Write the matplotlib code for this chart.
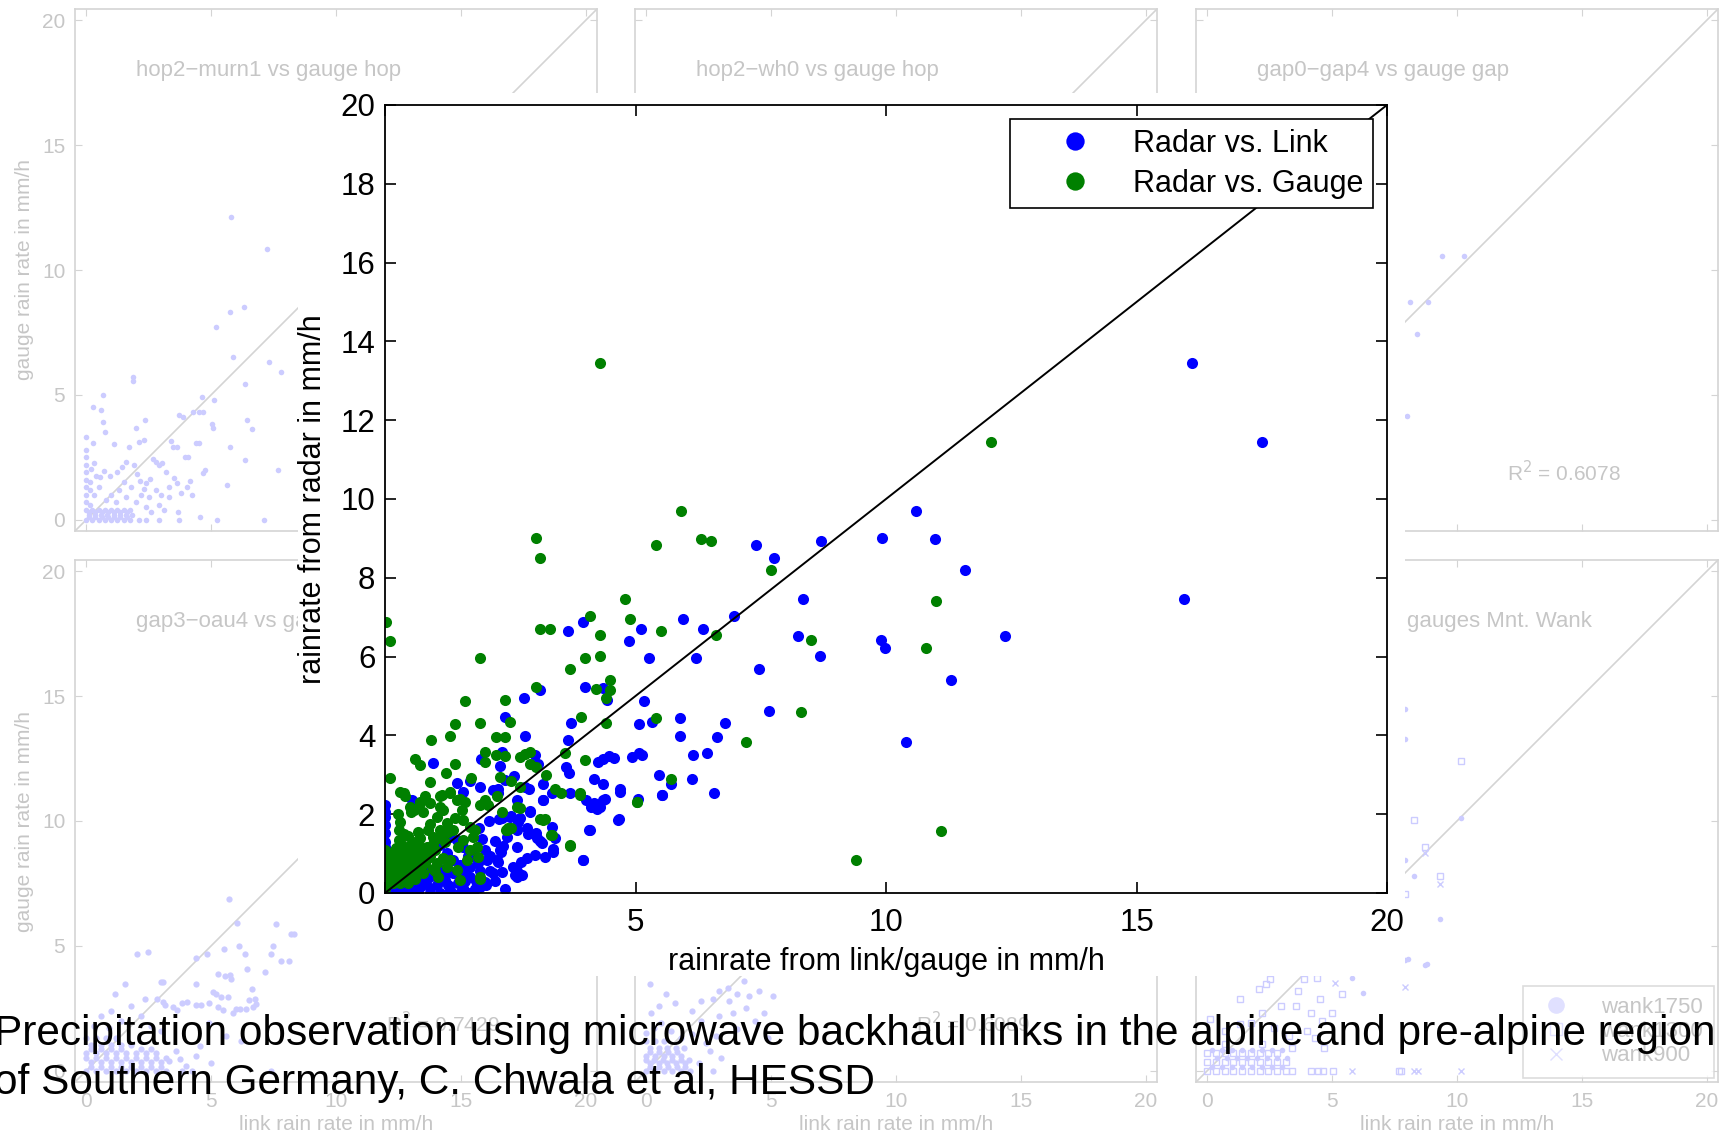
import matplotlib.pyplot as plt
from matplotlib.patches import Rectangle
from matplotlib.lines import Line2D

plt.rcParams['font.family'] = ['Liberation Sans', 'DejaVu Sans']

# ---------------- main plot data (rainrate in mm/h) ----------------
# radar vs. link  (x = link, y = radar)
link_x = [16.1, 17.5, 15.95, 10.60, 9.93, 10.97, 7.40, 8.71, 7.77, 11.57, 8.34, 5.94, 6.97, 3.96, 5.10,
          6.34, 3.65, 8.24, 12.38, 4.88, 9.90, 9.99, 5.27, 6.21, 8.68, 7.46, 11.29, 4.00, 3.10, 4.35,
          4.43, 2.77, 5.17, 2.40, 3.71, 5.06, 5.33, 5.88, 6.78, 7.66, 2.79, 3.65, 5.88, 6.62, 10.40,
          6.15, 6.43, 4.94, 5.06, 5.12, 4.26, 4.36, 4.48, 4.58, 3.00, 2.34, 1.91, 0.95, 2.29, 3.06,
          3.61, 3.67, 4.17, 5.46, 6.12, 5.70, 4.35, 4.69, 6.57, 5.52, 5.05, 4.39, 4.12, 4.23, 4.17,
          4.68, 4.07, 3.95, 2.40, 2.87, 3.15, 3.15, 3.34, 1.56, 2.25, 0.53, 2.58, 2.64, 2.90, 2.28,
          2.51, 2.69, 2.83, 3.01, 3.10, 3.36, 2.99, 2.71, 2.60, 2.63, 2.24, 2.10, 2.02, 1.81, 2.19,
          2.31, 1.94, 1.88, 2.08,
          0.0, 0.0, 0.0, 0.0, 0.0, 0.0, 0.0, 0.0, 0.0, 0.0, 0.0, 0.0,
          2.16, 2.26, 2.33, 2.43, 2.50, 2.66, 2.63, 2.86, 3.03, 3.13, 3.19, 3.36, 3.39, 3.33, 3.16,
          2.89, 2.63, 2.83, 2.56, 2.63, 2.73, 2.30, 2.26, 2.33, 2.16, 2.00, 2.03, 1.70, 1.56, 1.43,
          1.30, 1.10, 1.23, 1.36, 1.50, 1.36, 1.20, 1.03, 0.90, 0.70, 0.57, 0.37, 0.10, 1.30, 1.56,
          0.86, 1.13, 0.70, 3.96, 4.09, 3.69, 4.02, 4.36, 4.69, 4.66, 4.29, 5.52, 1.70, 1.90, 2.79,
          1.43, 1.00, 1.60, 1.80, 0.50, 1.10, 1.50, 0.25, 1.90, 1.65, 0.80, 0.45,
          0.30, 0.55, 0.80, 1.05, 1.25, 1.45, 1.70, 1.90, 2.20, 2.40, 0.90, 1.70, 1.20, 1.55, 1.85,
          2.10, 2.35, 2.00, 1.75, 1.45, 0.65, 0.20]
link_y = [13.45, 11.45, 7.45, 9.70, 9.02, 8.98, 8.83, 8.93, 8.51, 8.20, 7.47, 6.96, 7.02, 6.88, 6.71,
          6.71, 6.66, 6.53, 6.53, 6.40, 6.43, 6.22, 5.97, 5.97, 6.01, 5.69, 5.40, 5.22, 5.14, 5.20,
          4.89, 4.96, 4.88, 4.47, 4.32, 4.30, 4.34, 4.45, 4.32, 4.61, 3.99, 3.88, 3.98, 3.95, 3.82,
          3.50, 3.56, 3.46, 3.55, 3.50, 3.32, 3.40, 3.48, 3.43, 3.50, 3.58, 3.39, 3.29, 3.23, 3.27,
          3.21, 3.04, 2.90, 3.00, 2.90, 2.76, 2.76, 2.63, 2.53, 2.50, 2.38, 2.38, 2.19, 2.14, 2.28,
          1.87, 1.61, 0.83, 2.86, 2.63, 2.77, 2.37, 2.55, 2.56, 2.63, 2.36, 2.98, 2.37, 2.08, 1.88,
          1.95, 1.91, 1.66, 1.52, 1.31, 1.11, 0.97, 0.79, 0.45, 0.55, 0.84, 0.56, 0.21, 0.31, 1.32,
          1.05, 1.37, 1.66, 1.84,
          2.23, 2.06, 1.93, 1.73, 1.52, 1.29, 1.17, 0.96, 0.76, 0.53, 0.33, 0.15,
          2.61, 2.53, 1.90, 1.43, 1.94, 1.81, 1.60, 1.51, 1.39, 1.26, 0.92, 1.05, 1.39, 1.68, 2.36,
          2.06, 1.18, 0.88, 0.67, 0.41, 0.45, 1.09, 0.79, 0.54, 0.50, 0.29, 0.84, 0.67, 1.18, 1.35,
          1.43, 1.22, 1.01, 0.84, 0.71, 0.50, 0.33, 0.20, 0.12, 0.16, 0.08, 0.03, 0.08, 0.08, 0.12,
          0.37, 0.58, 0.33, 0.84, 1.60, 2.53, 2.36, 2.36, 2.57, 1.85, 2.19, 2.49, 2.83, 2.70, 2.70,
          2.78, 0.50, 0.30, 0.10, 0.00, 0.00, 0.00, 0.20, 0.55, 0.95, 0.60, 0.45,
          0.10, 0.20, 0.25, 0.35, 0.20, 0.25, 0.40, 0.15, 0.30, 0.10, 0.00, 0.00, 0.50, 0.55, 0.75,
          0.95, 1.20, 1.10, 0.95, 0.45, 0.00, 0.00]

# radar vs. gauge  (x = gauge, y = radar)
gauge_x = [4.30, 12.09, 5.91, 3.01, 6.30, 6.50, 5.40, 3.10, 7.70, 4.80, 11.00, 4.09, 4.90, 0.01, 3.10,
           3.30, 5.50, 4.30, 6.60, 8.50, 0.10, 10.80, 1.90, 4.00, 4.30, 3.70, 4.50, 3.01, 4.21, 4.50,
           4.41, 1.59, 2.40, 2.50, 1.40, 1.90, 3.91, 5.40, 4.41, 8.30, 1.30, 2.21, 2.40, 0.91, 7.20,
           2.00, 3.60, 2.89, 2.70, 2.80, 2.21, 2.00, 2.40, 0.60, 0.70, 4.00, 1.40, 2.90, 3.01, 1.21,
           0.10, 3.21, 2.30, 1.71, 2.51, 0.90, 5.70, 3.40, 3.51, 3.90, 0.30, 1.30, 0.39, 1.10, 1.49,
           0.69, 1.10, 5.03, 2.70, 1.90, 0.52, 3.10, 3.20, 3.31, 3.70, 11.09, 9.40, 2.41, 2.51, 1.90,
           0.37, 0.50, 0.57, 0.70, 0.76, 0.90, 1.03, 1.13, 1.30, 1.43, 1.53, 1.56, 1.70, 1.76, 1.83,
           1.86, 1.90, 1.70, 1.63, 1.46, 1.36, 1.23, 1.10, 0.96, 0.83, 0.76, 0.63, 0.50, 0.43, 0.37,
           0.28, 0.30, 0.25, 0.28, 1.03, 1.23, 1.43, 1.50, 1.06, 0.96, 2.63, 2.33, 2.43, 2.46, 3.33,
           3.69, 3.16, 2.23, 2.69, 3.89, 5.02, 2.06, 2.00,
           0.0, 0.0, 0.0, 0.0, 0.0, 0.0, 0.15, 0.15, 0.15, 0.15, 0.15, 0.3, 0.3, 0.3, 0.3, 0.3,
           0.45, 0.45, 0.45, 0.45, 0.45, 0.6, 0.6, 0.6, 0.6, 0.75, 0.8, 0.9, 0.55, 0.7, 0.85, 1.2,
           1.0, 1.15,
           0.1, 0.1, 0.1, 0.1, 0.22, 0.22, 0.22, 0.22, 0.22, 0.38, 0.38, 0.38, 0.38, 0.38, 0.52,
           0.52, 0.52, 0.52, 0.52, 0.68, 0.68, 0.68, 0.68, 0.85, 0.85, 0.95, 1.1, 0.65, 0.45, 0.3,
           0.9, 1.25, 1.4, 1.6, 1.15, 0.8, 1.0, 1.3, 1.55, 1.8]
gauge_y = [13.45, 11.44, 9.70, 9.02, 8.99, 8.93, 8.83, 8.51, 8.20, 7.47, 7.42, 7.02, 6.96, 6.88, 6.71,
           6.71, 6.66, 6.54, 6.54, 6.43, 6.40, 6.22, 5.97, 5.97, 6.01, 5.69, 5.41, 5.22, 5.19, 5.15,
           4.95, 4.88, 4.89, 4.35, 4.30, 4.32, 4.46, 4.45, 4.32, 4.60, 3.99, 3.97, 3.95, 3.88, 3.82,
           3.58, 3.56, 3.57, 3.46, 3.52, 3.49, 3.33, 3.47, 3.39, 3.24, 3.37, 3.27, 3.28, 3.20, 3.04,
           2.93, 3.00, 2.95, 2.92, 2.84, 2.81, 2.90, 2.63, 2.54, 2.49, 2.57, 2.56, 2.45, 2.47, 2.39,
           2.31, 2.19, 2.32, 2.17, 2.24, 2.05, 1.87, 1.87, 1.47, 1.20, 1.58, 0.83, 1.61, 1.66, 0.36,
           2.53, 2.19, 2.11, 2.28, 2.06, 2.28, 1.94, 2.49, 2.53, 2.36, 2.11, 1.85, 1.68, 1.43, 1.18,
           0.92, 0.41, 1.09, 0.84, 1.18, 1.60, 1.77, 1.60, 1.43, 1.18, 0.92, 0.75, 0.58, 1.18, 1.51,
           1.60, 1.80, 2.00, 1.35, 0.75, 0.67, 0.58, 0.33, 0.41, 0.62, 2.19, 2.06, 1.60, 1.64, 1.47,
           1.22, 1.85, 2.45, 2.70, 2.53, 2.32, 2.23, 2.36,
           0.1, 0.3, 0.5, 0.7, 0.9, 1.1, 0.25, 0.45, 0.65, 0.85, 1.05, 0.25, 0.55, 0.75, 0.95, 1.15,
           0.25, 0.45, 0.65, 0.85, 1.0, 0.35, 0.55, 0.95, 1.1, 0.5, 0.75, 0.95, 1.3, 1.4, 1.6, 1.3,
           1.1, 0.9,
           0.4, 0.6, 0.8, 1.0, 0.35, 0.55, 0.75, 0.95, 1.15, 0.3, 0.5, 0.7, 0.9, 1.1, 0.4,
           0.6, 0.8, 1.0, 1.2, 0.55, 0.75, 1.0, 1.2, 0.9, 1.1, 1.25, 1.4, 1.55, 1.45, 1.3,
           1.75, 1.55, 1.9, 2.3, 2.1, 2.45, 0.55, 0.85, 1.35, 1.6]

# ---------------- faded background panels (link/gauge rain rate, mm/h) ----------------
hop_murn_x = [5.81, 7.25, 6.30, 5.76, 5.21, 5.87, 7.30, 7.79, 1.87, 1.87, 0.68, 0.27, 0.60, 0.68, 2.00,
              2.37, 0.75, 1.11, 0.00, 0.27, 6.35, 6.44, 6.62, 4.63, 5.13, 3.73, 3.89, 4.29, 4.52, 4.68,
              5.08, 5.03, 3.40, 3.49, 3.65, 3.94, 4.08, 4.41, 4.52, 5.76, 6.37, 7.67, 4.75, 4.68, 5.62,
              4.54, 5.24, 7.13, 3.68, 3.73, 4.24, 4.05, 4.16, 3.81, 3.33, 3.62, 3.52, 2.90, 3.02, 3.21,
              2.54, 2.41, 2.32, 2.67, 2.78, 2.14, 2.03, 1.90, 1.71, 2.10, 2.33, 1.59, 1.43, 1.22, 0.95,
              0.71, 0.56, 0.40, 0.19, 0.32, 1.00, 1.30, 1.50, 1.60, 1.20, 0.80, 2.20, 2.50, 2.80, 2.90,
              3.10, 2.60, 3.00, 3.30, 0.50, 0.30, 1.80, 2.00, 2.40,
              0.0, 0.25, 0.5, 0.75, 1.0, 1.25, 1.5, 1.75, 0.1, 0.35, 0.6, 0.85, 1.1, 1.35, 1.6, 1.85,
              0.0, 0.25, 0.5, 0.75, 1.0, 1.25, 1.5, 1.75, 0.0, 0.0, 0.0, 0.0, 0.0, 0.0, 0.0, 0.0,
              0.15, 0.15, 0.15, 2.1, 2.4, 2.9,
              0.12, 0.37, 0.62, 0.87, 1.12, 1.37, 1.62, 0.12, 0.37, 0.62, 0.87, 1.12, 1.37, 1.62]
hop_murn_y = [12.13, 10.83, 8.51, 8.32, 7.72, 6.52, 6.32, 5.92, 5.70, 5.56, 5.01, 4.51, 4.41, 3.91, 3.69,
              4.01, 3.51, 3.02, 3.30, 3.09, 5.42, 4.01, 3.62, 4.91, 4.80, 4.20, 4.12, 4.31, 4.31, 4.31,
              3.69, 3.84, 3.16, 2.93, 2.93, 2.51, 2.51, 3.09, 3.09, 2.92, 2.40, 2.00, 2.00, 1.87, 1.39,
              0.10, 0.00, 0.00, 0.32, 0.00, 0.98, 1.32, 1.54, 1.09, 0.92, 1.47, 1.68, 2.18, 2.26, 1.93,
              1.64, 1.47, 1.25, 2.44, 2.33, 1.54, 1.82, 2.18, 2.90, 3.12, 3.19, 2.33, 2.11, 1.93, 1.75,
              1.97, 1.72, 1.75, 2.04, 2.26, 1.00, 1.20, 1.50, 0.90, 0.70, 0.80, 1.00, 0.90, 1.20, 0.60,
              0.40, 0.30, 1.00, 1.30, 1.30, 1.00, 1.30, 0.70, 0.50,
              0.0, 0.0, 0.0, 0.0, 0.0, 0.0, 0.0, 0.0, 0.2, 0.2, 0.2, 0.2, 0.2, 0.2, 0.2, 0.2,
              0.4, 0.4, 0.4, 0.4, 0.4, 0.4, 0.4, 0.4, 0.7, 1.0, 1.3, 1.6, 1.9, 2.2, 2.5, 2.8,
              0.6, 1.2, 1.5, 0.0, 0.0, 0.0,
              0.1, 0.1, 0.1, 0.1, 0.1, 0.1, 0.1, 0.3, 0.3, 0.3, 0.3, 0.3, 0.3, 0.3]

gap_x = [9.4, 10.3, 8.1, 8.85, 8.4, 8.0]
gap_y = [10.55, 10.55, 8.7, 8.7, 7.45, 4.15]

oau_x = [5.72, 6.04, 7.58, 8.21, 8.33, 6.10, 7.47, 2.02, 2.46, 4.41, 4.85, 5.52, 6.36, 7.38, 7.81,
         8.11, 6.44, 7.14, 5.28, 5.56, 5.74, 5.78, 2.99, 3.09, 1.56, 1.16, 4.39, 6.65, 5.21, 5.08,
         5.41, 5.68, 6.50, 6.74, 6.81, 4.61, 4.92, 2.35, 2.85, 3.09, 3.15, 3.82, 4.02, 3.48, 3.62,
         4.39, 5.28, 5.48, 5.88, 6.01, 6.14, 6.41, 6.68, 3.75, 4.22, 3.82, 4.55, 7.41,
         0.6, 0.3, 1.0, 1.4, 1.8, 2.2, 0.9, 2.6, 3.0, 4.9, 5.6, 6.2,
         0.0, 0.4, 0.8, 1.2, 1.6, 2.0, 2.4, 2.8, 3.2, 0.2, 0.6, 1.0, 1.4, 1.8, 2.2, 2.6, 3.0,
         0.0, 0.4, 0.8, 1.2, 1.6, 2.0, 2.4, 2.8, 0.2, 0.6, 1.0, 1.4, 1.8, 0.0, 0.4, 0.8, 1.2,
         0.2, 0.6, 1.0, 1.4, 1.8, 2.2, 2.6, 3.0, 0.0, 0.4, 0.8, 1.2, 1.6, 2.0, 2.4, 2.8, 3.2,
         0.2, 0.6, 1.0, 1.4, 2.2, 2.6, 3.3, 3.6, 4.0, 4.4, 5.0]
oau_y = [6.88, 5.92, 5.89, 5.49, 5.49, 5.00, 5.00, 4.69, 4.77, 4.51, 4.69, 4.88, 4.69, 4.69, 4.38,
         4.38, 4.08, 3.97, 3.88, 3.80, 3.85, 3.69, 3.57, 3.57, 3.46, 3.08, 3.46, 3.28, 3.08, 3.15,
         2.95, 2.95, 2.85, 2.88, 2.69, 2.62, 2.72, 2.88, 2.88, 2.77, 2.62, 2.72, 2.77, 2.57, 2.42,
         2.62, 2.57, 2.42, 2.31, 2.46, 2.46, 2.46, 2.54, 0.46, 0.00, 0.00, 1.00, 0.00,
         2.2, 1.8, 2.4, 2.0, 2.6, 2.2, 1.7, 1.8, 1.6, 1.9, 1.4, 1.2,
         0.0, 0.0, 0.0, 0.0, 0.0, 0.0, 0.0, 0.0, 0.0, 0.35, 0.35, 0.35, 0.35, 0.35, 0.35, 0.35, 0.35,
         0.7, 0.7, 0.7, 0.7, 0.7, 0.7, 0.7, 0.7, 1.05, 1.05, 1.05, 1.05, 1.05, 1.3, 1.3, 1.3, 1.3,
         0.15, 0.15, 0.15, 0.15, 0.15, 0.15, 0.15, 0.15, 0.52, 0.52, 0.52, 0.52, 0.52, 0.52, 0.52, 0.52, 0.52,
         0.87, 0.87, 0.87, 0.87, 0.87, 0.87, 0.4, 0.8, 0.2, 0.6, 0.3]

mid_x = [0.16, 0.80, 1.16, 1.85, 2.20, 2.67, 2.92, 3.28, 3.64, 3.92, 4.52, 5.08, 2.20, 2.92, 3.48,
         4.00, 4.72, 4.88, 4.36, 3.64, 2.67, 2.56, 1.84, 1.52,
         0.0, 0.35, 0.7, 1.05, 1.4, 1.75, 0.15, 0.5, 0.85, 1.2, 1.55, 0.0, 0.35, 0.7, 1.05, 1.4,
         0.15, 0.5, 0.85, 1.2, 0.0, 0.35, 0.7,
         0.17, 0.52, 0.87, 1.22, 1.57, 0.0, 0.33, 0.68, 1.03, 1.38, 1.73, 0.17, 0.52, 0.87, 1.22,
         0.0, 0.3, 0.6, 1.0, 1.4, 0.2, 0.5, 2.1, 2.4, 3.0, 2.8, 3.3, 4.1]
mid_y = [3.47, 3.07, 2.71, 2.39, 2.79, 2.87, 3.19, 3.31, 3.07, 3.60, 3.19, 2.99, 1.99, 2.19, 2.31,
         2.51, 2.31, 1.31, 1.99, 1.67, 0.00, 0.80, 1.47, 0.91,
         0.0, 0.0, 0.0, 0.0, 0.0, 0.0, 0.3, 0.3, 0.3, 0.3, 0.3, 0.6, 0.6, 0.6, 0.6, 0.6,
         0.9, 0.9, 0.9, 0.9, 1.2, 1.2, 1.2,
         0.15, 0.15, 0.15, 0.15, 0.15, 0.45, 0.45, 0.45, 0.45, 0.45, 0.45, 0.75, 0.75, 0.75, 0.75,
         1.5, 1.7, 1.9, 1.6, 1.3, 2.3, 2.6, 0.3, 1.1, 0.5, 1.4, 2.8, 3.0]

# gauges at Mount Wank
wank1750_x = [7.9, 7.9, 10.16, 7.9, 8.26, 9.32, 7.9, 8.7, 6.23, 5.79, 8.04, 8.8,
              0.2, 0.6, 1.0, 1.4, 1.8, 2.2, 2.6, 3.0, 0.4, 0.8, 1.2, 1.6, 2.0, 2.4, 2.8, 3.2,
              0.2, 0.6, 1.0, 1.4, 1.8, 2.2, 2.6, 3.0]
wank1750_y = [14.5, 13.3, 10.13, 8.45, 7.79, 6.06, 4.42, 4.25, 3.10, 3.71, 4.48, 4.28,
              0.15, 0.15, 0.15, 0.15, 0.15, 0.15, 0.15, 0.15, 0.5, 0.5, 0.5, 0.5, 0.5, 0.5, 0.5, 0.5,
              0.85, 0.85, 0.85, 0.85, 0.85, 0.85, 0.85, 0.85]
wank1300_x = [10.16, 8.26, 8.7, 9.32, 7.9, 7.68, 4.15, 4.43, 4.63, 5.03, 7.75,
              1.3, 2.07, 2.35, 2.5, 3.87, 4.4, 3.63, 4.5, 4.99, 5.39, 3.55, 2.95, 2.19, 1.75, 1.3,
              0.7, 4.15, 4.59, 3.99, 3.27, 2.67, 0.1, 0.7, 2.19, 3.39, 4.67, 4.31,
              0.0, 0.35, 0.7, 1.05, 1.4, 1.75, 2.1, 2.45, 2.8, 3.15, 3.4,
              0.0, 0.35, 0.7, 1.05, 1.4, 1.75, 2.1, 2.45, 2.8, 3.15,
              0.0, 0.35, 0.7, 1.05, 1.4, 1.75, 2.1, 2.45, 2.8]
wank1300_y = [12.39, 10.04, 8.94, 7.79, 7.08, 0.0, 0.0, 0.0, 0.0, 0.0, 0.0,
              2.87, 3.27, 3.47, 3.67, 3.67, 3.71, 3.19, 2.87, 2.31, 3.07, 2.59, 2.59, 2.31, 1.91, 1.87,
              1.59, 2.31, 1.99, 1.59, 1.39, 1.71, 2.07, 1.07, 1.07, 0.91, 0.91, 1.31,
              0.0, 0.0, 0.0, 0.0, 0.0, 0.0, 0.0, 0.0, 0.0, 0.0, 0.0,
              0.35, 0.35, 0.35, 0.35, 0.35, 0.35, 0.35, 0.35, 0.35, 0.35,
              0.7, 0.7, 0.7, 0.7, 0.7, 0.7, 0.7, 0.7, 0.7]
wank900_x = [8.7, 9.32, 7.9, 8.26, 10.16, 5.11, 5.79, 8.43]
wank900_y = [8.7, 7.48, 3.36, 0.0, 0.0, 3.51, 0.0, 0.0]

ticks_bg = [0, 5, 10, 15, 20]

BG_LINE = '#d4d4d4'
BG_TEXT = '#c6c6c6'
BG_DOT = '#ccccff'

W, H = 1729, 1139
fig = plt.figure(figsize=(W / 100, H / 100), dpi=100)


def faded_panel(left_px, top_px, title, title_x, r2=None, r2_x=12, ylab=False, xlab=False):
    ax = fig.add_axes([left_px / W, 1 - (top_px + 522) / H, 522 / W, 522 / H])
    ax.set_xlim(-0.45, 20.45)
    ax.set_ylim(-0.45, 20.45)
    ax.plot([-1, 21], [-1, 21], color=BG_LINE, lw=1.2)
    ax.set_xticks(ticks_bg)
    ax.set_yticks(ticks_bg)
    ax.tick_params(direction='in', length=5, color=BG_LINE, labelcolor=BG_TEXT,
                   labelsize=15, top=True, right=True, pad=7,
                   labelleft=ylab, labelbottom=xlab)
    for s in ax.spines.values():
        s.set_color(BG_LINE)
        s.set_linewidth(1.2)
    ax.text(title_x, 18, title, color=BG_TEXT, fontsize=16, va='center', ha='left')
    if r2:
        ax.text(r2_x, 1.9, 'R$^2$ = ' + r2, color=BG_TEXT, fontsize=15, va='center')
    if ylab:
        ax.set_ylabel('gauge rain rate in mm/h', color=BG_TEXT, fontsize=15, labelpad=6)
    if xlab:
        ax.set_xlabel('link rain rate in mm/h', color=BG_TEXT, fontsize=15, labelpad=3)
    return ax


ax1 = faded_panel(75, 9, 'hop2\u2212murn1 vs gauge hop', 2, ylab=True)
ax1.plot(hop_murn_x, hop_murn_y, 'o', ms=4, color=BG_DOT, mec='none')
ax2 = faded_panel(635, 9, 'hop2\u2212wh0 vs gauge hop', 2)
ax3 = faded_panel(1196, 9, 'gap0\u2212gap4 vs gauge gap', 2, r2='0.6078')
ax3.plot(gap_x, gap_y, 'o', ms=4, color=BG_DOT, mec='none')
ax4 = faded_panel(75, 560, 'gap3\u2212oau4 vs gauge gap', 2, r2='0.7429', ylab=True, xlab=True)
ax4.plot(oau_x, oau_y, 'o', ms=4.5, color=BG_DOT, mec='none')
ax5 = faded_panel(635, 560, 'gap1\u2212gap2 vs gauge gap', 2, r2='0.6089', r2_x=10.8, xlab=True)
ax5.plot(mid_x, mid_y, 'o', ms=4.5, color=BG_DOT, mec='none')
ax6 = faded_panel(1196, 560, 'gauges Mnt. Wank', 8, xlab=True)
ax6.plot(wank1750_x, wank1750_y, 'o', ms=4, color=BG_DOT, mec='none', label='wank1750')
ax6.plot(wank1300_x, wank1300_y, 's', ms=4, mfc='none', mec=BG_DOT, mew=1, label='wank1300')
ax6.plot(wank900_x, wank900_y, 'x', ms=4, color=BG_DOT, mew=1, label='wank900')
bg_handles = [Line2D([], [], ls='none', marker='o', ms=12, color='#e0e0ff', mec='none'),
              Line2D([], [], ls='none', marker='s', ms=9, mfc='none', mec='#e0e0ff'),
              Line2D([], [], ls='none', marker='x', ms=9, color='#e0e0ff')]
leg6 = ax6.legend(bg_handles, ['wank1750', 'wank1300', 'wank900'], loc='lower right',
                  fontsize=16, labelcolor=BG_TEXT, fancybox=False, edgecolor=BG_LINE,
                  borderaxespad=0.2, borderpad=0.5, handletextpad=1.0, labelspacing=0.15)
leg6.get_frame().set_linewidth(1.2)

# white sheet under the main plot
fig.add_artist(Rectangle((298 / W, 1 - 976 / H), (1405 - 298) / W, (976 - 93) / H,
                         transform=fig.transFigure, facecolor='white', edgecolor='none',
                         zorder=1))

# ---------------- main plot ----------------
ax = fig.add_axes([385 / W, 1 - 893 / H, 1002 / W, 788 / H])
ax.set_zorder(2)
ax.plot(link_x, link_y, 'o', ms=8, color='#0000ff', mec='none', label='Radar vs. Link')
ax.plot(gauge_x, gauge_y, 'o', ms=8, color='#008000', mec='none', label='Radar vs. Gauge')
ax.plot([0, 20], [0, 20], color='black', lw=1.4)
ax.set_xlim(0, 20)
ax.set_ylim(0, 20)
ax.set_xticks([0, 5, 10, 15, 20])
ax.set_yticks(range(0, 21, 2))
ax.tick_params(direction='in', length=8, width=1.2, labelsize=22.5, top=True, right=True)
ax.tick_params(axis='x', pad=11)
ax.tick_params(axis='y', pad=7)
for s in ax.spines.values():
    s.set_linewidth(1.3)
ax.set_xlabel('rainrate from link/gauge in mm/h', fontsize=22, labelpad=6)
ax.set_ylabel('rainrate from radar in mm/h', fontsize=22, labelpad=9)
leg = ax.legend(loc='upper right', fontsize=22, fancybox=False, edgecolor='black',
                framealpha=1, borderaxespad=0.47, borderpad=0.3, handlelength=3.66,
                handletextpad=0.07, labelspacing=0.34, markerscale=1.65)
leg.get_frame().set_linewidth(1.2)

fig.text(-0.0035, 0.0706, 'Precipitation observation using microwave backhaul links in the alpine '
         'and pre-alpine region\nof Southern Germany, C. Chwala et al, HESSD',
         fontsize=30.5, va='center', ha='left', linespacing=1.3, zorder=3)

fig.savefig('out.png', dpi=100)
